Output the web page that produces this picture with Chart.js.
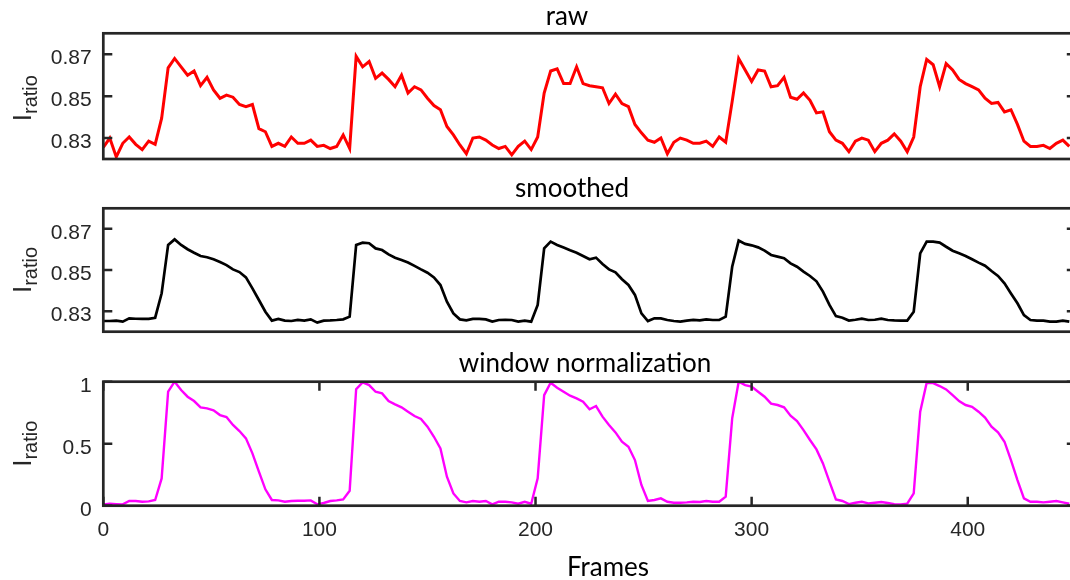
<!DOCTYPE html>
<html>
<head>
<meta charset="utf-8">
<script src="https://cdn.jsdelivr.net/npm/chart.js@4.4.1/dist/chart.umd.min.js"></script>
<style>
    html, body { margin: 0; padding: 0; background: #fff; overflow: hidden; width: 1070px; height: 580px; }
    .panel { position: absolute; left: 0; }
</style>
</head>
<body>
<canvas id="raw-chart" class="panel" width="1080" height="195" style="top:0px"></canvas>
<canvas id="smoothed-chart" class="panel" width="1080" height="195" style="top:170px"></canvas>
<canvas id="norm-chart" class="panel" width="1080" height="235" style="top:345px"></canvas>
<script>
// frame index of every sample (read every 3rd frame off the figure)
const frames = [
    0, 3, 6, 9, 12, 15, 18, 21, 24, 27,
    30, 33, 36, 39, 42, 45, 48, 51, 54, 57,
    60, 63, 66, 69, 72, 75, 78, 81, 84, 87,
    90, 93, 96, 99, 102, 105, 108, 111, 114, 117,
    120, 123, 126, 129, 132, 135, 138, 141, 144, 147,
    150, 153, 156, 159, 162, 165, 168, 171, 174, 177,
    180, 183, 186, 189, 192, 195, 198, 201, 204, 207,
    210, 213, 216, 219, 222, 225, 228, 231, 234, 237,
    240, 243, 246, 249, 252, 255, 258, 261, 264, 267,
    270, 273, 276, 279, 282, 285, 288, 291, 294, 297,
    300, 303, 306, 309, 312, 315, 318, 321, 324, 327,
    330, 333, 336, 339, 342, 345, 348, 351, 354, 357,
    360, 363, 366, 369, 372, 375, 378, 381, 384, 387,
    390, 393, 396, 399, 402, 405, 408, 411, 414, 417,
    420, 423, 426, 429, 432, 435, 438, 441, 444, 447
];

const rawRatio = [
    .8255, .830, .821, .8275, .8305, .827, .8245, .8285, .827, .8395,
    .8635, .868, .864, .860, .862, .855, .859, .853, .849, .8505,
    .8495, .846, .845, .846, .8345, .833, .826, .8275, .826, .8305,
    .8275, .8275, .829, .826, .8265, .825, .826, .8315, .825, .869,
    .864, .8665, .8585, .861, .858, .8545, .860, .8515, .8545, .853,
    .849, .8455, .8435, .8355, .8315, .8267, .8225, .830, .8305, .829,
    .8267, .825, .826, .822, .826, .8285, .8245, .8305, .8515, .862,
    .863, .856, .856, .864, .856, .855, .8545, .854, .8465, .851,
    .8465, .845, .8365, .8325, .829, .828, .830, .8225, .828, .830,
    .829, .8275, .8275, .8285, .826, .8305, .828, .8475, .868, .8625,
    .857, .8625, .862, .8545, .855, .859, .8495, .8485, .8515, .848,
    .842, .8425, .833, .829, .8275, .8235, .8285, .830, .829, .8235,
    .8275, .829, .832, .8285, .8235, .8305, .8545, .8675, .865, .8545,
    .8655, .8625, .858, .856, .8545, .853, .849, .8465, .847, .8425,
    .8435, .8365, .8285, .826, .826, .8265, .825, .8275, .829, .826
];

const smoothedRatio = [
    .8252, .8252, .8254, .8249, .8265, .8263, .8262, .8262, .8268, .8387,
    .8622, .8649, .8622, .8601, .8584, .8568, .8562, .8552, .8539, .8524,
    .8503, .849, .8464, .8411, .8354, .8297, .8254, .8262, .8254, .8252,
    .8257, .8254, .826, .8244, .8254, .8255, .8257, .826, .8273, .8622,
    .8633, .863, .8605, .8597, .8576, .856, .8549, .8536, .852, .8503,
    .8487, .8464, .8427, .8346, .8289, .826, .8255, .8262, .8262, .826,
    .8249, .8257, .8258, .8257, .8249, .8254, .8249, .833, .8605, .8638,
    .8622, .8609, .8596, .8584, .8568, .8552, .856, .8529, .8503, .8489,
    .8455, .8427, .8379, .8289, .8252, .8265, .8265, .8257, .8252, .8249,
    .8254, .8257, .8255, .826, .8257, .8257, .8273, .8516, .8643, .8627,
    .862, .861, .8594, .8573, .8565, .8557, .8532, .8516, .8492, .8471,
    .8445, .8395, .833, .8276, .8268, .8254, .8258, .8263, .8257, .8258,
    .8263, .8257, .8255, .8254, .8254, .8297, .8581, .8638, .8638, .8633,
    .8613, .8594, .8581, .8568, .8552, .8536, .8521, .8495, .8471, .8435,
    .8386, .8338, .8281, .8257, .8254, .8254, .8249, .8249, .8254, .8249
];

const normalizedRatio = [
    .011, .016, .013, .011, .038, .038, .032, .035, .046, .22,
    .92, 1.0, .933, .879, .844, .793, .785, .769, .731, .715,
    .651, .602, .543, .422, .274, .132, .046, .043, .032, .038,
    .04, .04, .043, .011, .022, .038, .043, .051, .12, .94,
    .995, .973, .919, .906, .844, .817, .793, .758, .723, .699,
    .637, .556, .462, .234, .099, .038, .027, .038, .032, .038,
    .011, .032, .032, .027, .016, .032, .016, .22, .892, .992,
    .952, .919, .887, .866, .839, .777, .804, .718, .651, .591,
    .516, .476, .368, .167, .038, .046, .059, .032, .024, .024,
    .027, .032, .03, .038, .032, .032, .073, .704, 1.0, .973,
    .96, .919, .879, .823, .812, .793, .726, .683, .61, .53,
    .454, .341, .194, .051, .038, .013, .024, .032, .019, .024,
    .03, .022, .013, .011, .016, .1, .758, .992, .989, .965,
    .938, .892, .844, .812, .798, .758, .71, .637, .591, .516,
    .368, .207, .059, .032, .032, .027, .032, .038, .027, .016
];

const ratioTicks = [0.83, 0.85, 0.87];
const normTicks = [0, 0.5, 1];
const frameTicks = [0, 100, 200, 300, 400];

const AXIS_COLOR = '#262626';
const SANS = '"Liberation Sans", Arial, sans-serif';

// box, inward ticks, tick labels, titles and axis labels (MATLAB style)
const axesBox = {
    id: 'axesBox',
    afterDatasetsDraw(chart, args, opts) {
        const { ctx, chartArea: a, scales } = chart;
        ctx.save();
        ctx.strokeStyle = AXIS_COLOR;
        ctx.lineWidth = 2.5;
        ctx.beginPath();
        opts.yTicks.forEach(v => {
            const y = scales.y.getPixelForValue(v);
            ctx.moveTo(a.left, y); ctx.lineTo(a.left + 9, y);
            ctx.moveTo(a.right, y); ctx.lineTo(a.right - 9, y);
        });
        (opts.xTicks || []).forEach(v => {
            const x = scales.x.getPixelForValue(v);
            ctx.moveTo(x, a.bottom); ctx.lineTo(x, a.bottom - 9);
            ctx.moveTo(x, a.top); ctx.lineTo(x, a.top + 9);
        });
        ctx.stroke();
        ctx.lineWidth = 2.7;
        ctx.strokeRect(a.left, a.top, a.right - a.left, a.bottom - a.top);

        // tick labels
        ctx.fillStyle = AXIS_COLOR;
        ctx.font = '21px ' + SANS;
        ctx.textBaseline = 'alphabetic';
        ctx.textAlign = 'right';
        opts.yTicks.forEach(v => {
            ctx.fillText(opts.fmt(v), a.left - 11.6, scales.y.getPixelForValue(v) + 9.8);
        });
        ctx.textAlign = 'center';
        (opts.xTicks || []).forEach(v => {
            ctx.fillText(String(v), scales.x.getPixelForValue(v), a.bottom + 30.3);
        });

        // title
        ctx.fillStyle = '#000';
        ctx.font = '26px Lato, sans-serif';
        ctx.fillText(opts.title, opts.titleX, opts.titleY);
        if (opts.xLabel) {
            ctx.fillText(opts.xLabel, opts.xLabelX, opts.xLabelY);
        }

        // y label: I with subscript "ratio"
        const yMid = (a.top + a.bottom) / 2 + opts.labelShift;
        ctx.fillStyle = AXIS_COLOR;
        ctx.translate(31, yMid);
        ctx.rotate(-Math.PI / 2);
        ctx.textAlign = 'left';
        ctx.font = '26px ' + SANS;
        const wI = ctx.measureText('I').width;
        ctx.font = '20px ' + SANS;
        const wR = ctx.measureText('ratio').width;
        const start = -(wI + wR) / 2;
        ctx.font = '26px ' + SANS;
        ctx.fillText('I', start, 0);
        ctx.font = '20px ' + SANS;
        ctx.fillText('ratio', start + wI, 6);
        ctx.restore();
    }
};

function makePanel(canvasId, values, color, lineWidth, p) {
    const ctx = document.getElementById(canvasId).getContext('2d');
    return new Chart(ctx, {
        type: 'line',
        data: {
            datasets: [
                {
                    data: frames.map((f, i) => ({ x: f, y: values[i] })),
                    borderColor: color,
                    borderWidth: lineWidth,
                    pointRadius: 0,
                    tension: 0,
                    fill: false,
                    clip: 0,
                },
            ],
        },
        plugins: [axesBox],
        options: {
            responsive: false,
            animation: false,
            layout: { padding: { left: 0, right: 4.2, top: p.top, bottom: p.bottom } },
            plugins: {
                legend: { display: false },
                tooltip: { enabled: false },
                axesBox: {
                    yTicks: p.yTicks,
                    xTicks: p.xTicks,
                    fmt: p.fmt,
                    title: p.title,
                    titleX: p.titleX,
                    titleY: p.titleY,
                    xLabel: p.xLabel,
                    xLabelX: p.xLabelX,
                    xLabelY: p.xLabelY,
                    labelShift: p.labelShift || 0,
                },
            },
            scales: {
                x: {
                    type: 'linear',
                    min: 0,
                    max: 450,
                    display: p.showX,
                    grid: { display: false },
                    border: { display: false },
                    ticks: { display: false },
                    afterFit: (scale) => { scale.height = p.xHeight || 0; },
                },
                y: {
                    min: p.yMin,
                    max: p.yMax,
                    grid: { display: false },
                    border: { display: false },
                    ticks: { display: false },
                    afterFit: (scale) => { scale.width = 103.3; },
                },
            },
        },
    });
}

makePanel('raw-chart', rawRatio, '#ff0000', 3, {
    top: 33.3, bottom: 36, yMin: 0.82, yMax: 0.88, yTicks: ratioTicks,
    fmt: v => v.toFixed(2), showX: false, labelShift: 2,
    title: 'raw', titleX: 567, titleY: 25,
});

makePanel('smoothed-chart', smoothedRatio, '#000000', 2.7, {
    top: 38.3, bottom: 33.3, yMin: 0.82, yMax: 0.88, yTicks: ratioTicks,
    fmt: v => v.toFixed(2), showX: false,
    title: 'smoothed', titleX: 572, titleY: 26.7,
});

makePanel('norm-chart', normalizedRatio, '#ff00ff', 2.4, {
    top: 36.7, bottom: 0, yMin: 0, yMax: 1, yTicks: normTicks,
    fmt: v => String(v), showX: true, xTicks: frameTicks, xHeight: 74.3,
    title: 'window normalization', titleX: 585, titleY: 26.7,
    xLabel: 'Frames', xLabelX: 608, xLabelY: 230.7,
});
</script>
</body>
</html>
